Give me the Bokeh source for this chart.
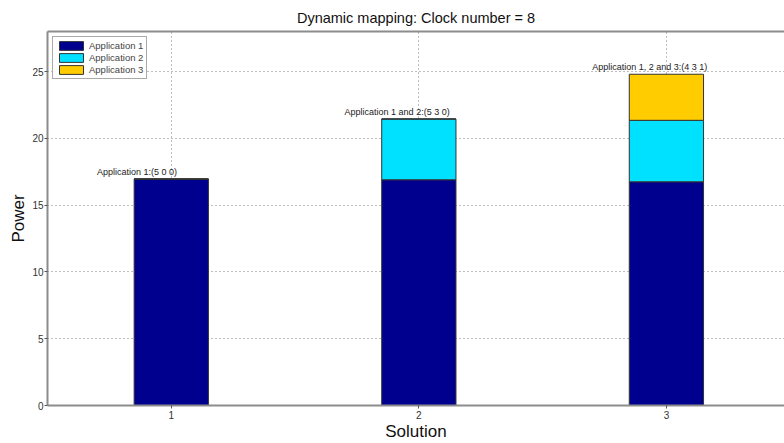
from bokeh.plotting import figure
from bokeh.models import (ColumnDataSource, LinearAxis, Legend, LegendItem,
                          FixedTicker, Range1d)
from bokeh.core.properties import value
from bokeh.embed import file_html
from bokeh.resources import INLINE

# --- data -------------------------------------------------------------
solutions = [1, 2, 3]
app1 = [16.95, 16.9, 16.75]
app2 = [0.0, 4.55, 4.6]
app3 = [0.0, 0.0, 3.45]
bar_labels = ["Application 1:(5 0 0)",
              "Application 1 and 2:(5 3 0)",
              "Application 1, 2 and 3:(4 3 1)"]
series_names = ["Application 1", "Application 2", "Application 3"]
colors = ["#00008F", "#00E0FF", "#FFCC00"]
y_ticks = [0, 5, 10, 15, 20, 25]

FONT = "Liberation Sans"
AXIS_GRAY = "#8c8c8c"

totals = [a + b + c for a, b, c in zip(app1, app2, app3)]
src = ColumnDataSource(dict(x=solutions, app1=app1, app2=app2, app3=app3))
lab_src = ColumnDataSource(dict(x=[s - 0.3 for s in solutions],
                                y=[t + 0.15 for t in totals],
                                text=bar_labels))

p = figure(width=784, height=443, output_backend="svg", toolbar_location=None,
           x_range=Range1d(0.5, 3.477), y_range=Range1d(0, 28),
           min_border_left=47, min_border_right=0, min_border_bottom=37,
           min_border_top=31)

p.title.text = "Dynamic mapping: Clock number = 8"
p.title.align = "center"
p.title.text_font = FONT
p.title.text_font_size = "14.5px"
p.title.text_font_style = "normal"
p.title.text_color = "#111111"
p.title.standoff = 11

# stacked bars
renderers = p.vbar_stack(["app1", "app2", "app3"], x="x", width=0.3,
                         source=src, fill_color=colors,
                         line_color="#333333", line_width=1)

# value text above each stack
p.text(x="x", y="y", text="text", source=lab_src,
       text_font=value(FONT), text_font_size="9px",
       text_color="#222222", text_baseline="bottom", text_align="left")

# axes
p.xaxis.ticker = FixedTicker(ticks=solutions)
p.yaxis.ticker = FixedTicker(ticks=y_ticks)
p.xaxis.axis_label = "Solution"
p.yaxis.axis_label = "Power"
for ax in (p.xaxis[0], p.yaxis[0]):
    ax.axis_line_color = AXIS_GRAY
    ax.axis_line_width = 2
    ax.major_tick_line_color = "#555555"
    ax.major_tick_out = 3
    ax.major_tick_in = 0
    ax.minor_tick_line_color = None
    ax.major_label_text_font = FONT
    ax.major_label_text_font_size = "10px"
    ax.major_label_text_color = "#333333"
    ax.axis_label_text_font = FONT
    ax.axis_label_text_font_size = "17px"
    ax.axis_label_text_font_style = "normal"
    ax.axis_label_text_color = "#111111"
p.xaxis.major_label_standoff = 2
p.xaxis.axis_label_standoff = 0
p.yaxis.major_label_standoff = 1
p.yaxis.axis_label_standoff = 1

top = LinearAxis(ticker=FixedTicker(ticks=[]), axis_line_color=AXIS_GRAY,
                 axis_line_width=2, major_label_text_font_size="0px",
                 major_tick_line_color=None, minor_tick_line_color=None)
p.add_layout(top, "above")

# dotted grid
for g in (p.xgrid[0], p.ygrid[0]):
    g.grid_line_color = "#444444"
    g.grid_line_dash = "1 3"
    g.grid_line_alpha = 0.7
    g.grid_line_width = 1
p.outline_line_color = None
p.background_fill_color = "white"
p.border_fill_color = "white"

legend = Legend(items=[LegendItem(label=n, renderers=[r])
                       for n, r in zip(series_names, renderers)],
                location="top_left")
legend.margin = 5
legend.padding = 3
legend.spacing = 1
legend.glyph_width = 30
legend.glyph_height = 11
legend.label_height = 11
legend.label_standoff = 3
legend.label_text_font = FONT
legend.label_text_font_size = "9.5px"
legend.border_line_color = "#555555"
legend.border_line_width = 1
p.add_layout(legend)

open("out.html", "w").write(file_html(p, INLINE))
